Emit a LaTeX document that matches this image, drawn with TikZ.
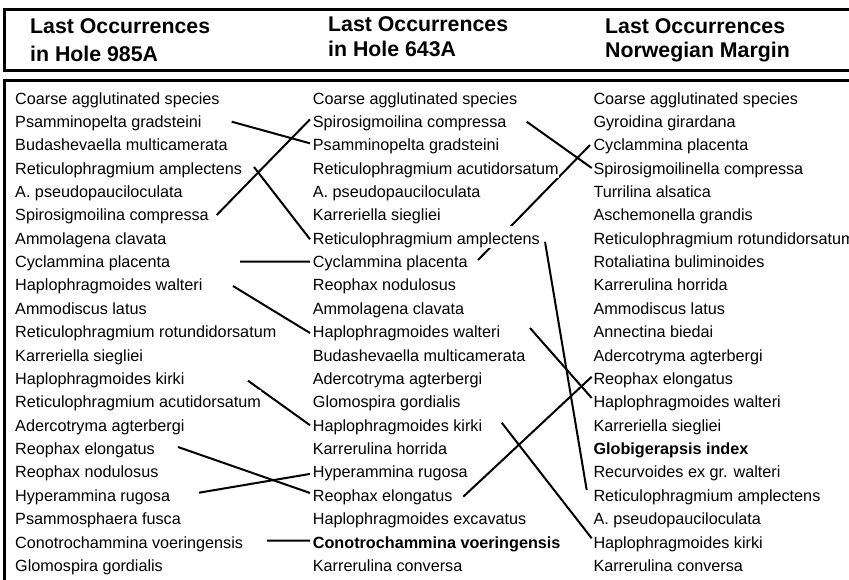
\documentclass[tikz,border=0pt]{standalone}
\usepackage{fontspec}
\setmainfont{Liberation Sans}
\usetikzlibrary{calc}
\pgfdeclarelayer{bg}
\pgfsetlayers{bg,main}
\begin{document}
\begin{tikzpicture}[x=1pt,y=-1pt,
  sp/.style={anchor=base west, inner xsep=0pt, inner ysep=0pt, text height=18pt, text depth=4pt, fill=white, font=\fontsize{16.2}{19}\selectfont},
  hd/.style={anchor=base west, inner sep=0pt, font=\fontsize{21.3}{25}\selectfont\bfseries},
  link/.style={line width=2pt},
  frame/.style={line width=3pt}]
\useasboundingbox (0,0) rectangle (849,579);
\clip (0,0) rectangle (849,579);
\draw[frame] (4.5,9) rectangle (870,70);
\draw[frame] (4.5,80.3) rectangle (870,620);
% headers
\node[hd] (h1a) at (30,33) {Last Occurrences};
\node[hd] (h1b) at (30,61) {in Hole 985A};
\node[hd] (h2a) at (328,31.5) {Last Occurrences};
\node[hd] (h2b) at (328,56) {in Hole 643A};
\node[hd] (h3a) at (605,33) {Last Occurrences};
\node[hd] (h3b) at (605,57) {Norwegian Margin};
% columns
\foreach \t [count=\i from 0] in {Coarse agglutinated species, Psamminopelta gradsteini, Budashevaella multicamerata, Reticulophragmium amplectens, A. pseudopauciloculata, Spirosigmoilina compressa, Ammolagena clavata, Cyclammina placenta, Haplophragmoides walteri, Ammodiscus latus, Reticulophragmium rotundidorsatum, Karreriella siegliei, Haplophragmoides kirki, Reticulophragmium acutidorsatum, Adercotryma agterbergi, Reophax elongatus, Reophax nodulosus, Hyperammina rugosa, Psammosphaera fusca, Conotrochammina voeringensis, Glomospira gordialis}
  \node[sp] (a\i) at (15,{104+23.37*\i}) {\t};
\foreach \t [count=\i from 0] in {Coarse agglutinated species, Spirosigmoilina compressa, Psamminopelta gradsteini, Reticulophragmium acutidorsatum, A. pseudopauciloculata, Karreriella siegliei, Reticulophragmium amplectens, Cyclammina placenta, Reophax nodulosus, Ammolagena clavata, Haplophragmoides walteri, Budashevaella multicamerata, Adercotryma agterbergi, Glomospira gordialis, Haplophragmoides kirki, Karrerulina horrida, Hyperammina rugosa, Reophax elongatus, Haplophragmoides excavatus, {\textbf{Conotrochammina voeringensis}}, Karrerulina conversa}
  \node[sp] (b\i) at (312.7,{104+23.37*\i}) {\t};
\foreach \t [count=\i from 0] in {Coarse agglutinated species, Gyroidina girardana, Cyclammina placenta, Spirosigmoilinella compressa, Turrilina alsatica, Aschemonella grandis, Reticulophragmium rotundidorsatum, Rotaliatina buliminoides, Karrerulina horrida, Ammodiscus latus, Annectina biedai, Adercotryma agterbergi, Reophax elongatus, Haplophragmoides walteri, Karreriella siegliei, {\textbf{Globigerapsis index}}, Recurvoides ex gr. walteri, Reticulophragmium amplectens, A. pseudopauciloculata, Haplophragmoides kirki, Karrerulina conversa}
  \node[sp] (c\i) at (593.3,{104+23.37*\i}) {\t};
% free ends
\coordinate (s1) at (231.7,121.7);
\coordinate (s2) at (216.7,215);
\coordinate (s3) at (254,167);
\coordinate (s4) at (240,261.7);
\coordinate (s5) at (233,286);
\coordinate (s6) at (248,380.7);
\coordinate (s7) at (178,447);
\coordinate (s8) at (199,492.7);
\coordinate (s9) at (267,540.7);
\coordinate (t1) at (526.7,121.7);
\coordinate (t2) at (478,260);
\coordinate (t3) at (545,241.7);
\coordinate (t4) at (530,328);
\coordinate (t5) at (501.7,422.7);
\coordinate (t6) at (463.3,496.7);
\coordinate (u3) at ($(c17.base west)+(-6.6,-11.3)$);
\begin{pgfonlayer}{bg}
\draw[link] (s1) -- ($(b2.base west)+(-2.7,-7.4)$);
\draw[link] (s2) -- ($(b1.base west)+(-2.7,-8)$);
\draw[link] (s3) -- ($(b6.base west)+(-2.7,-5)$);
\draw[link] (s4) -- ($(b7.base west)+(-2.7,-6)$);
\draw[link] (s5) -- ($(b10.base west)+(-2.7,-4.7)$);
\draw[link] (s6) -- ($(b14.base west)+(-2.7,-6)$);
\draw[link] (s7) -- ($(b17.base west)+(-2.7,-8.3)$);
\draw[link] (s8) -- ($(b16.base west)+(-2.7,-4)$);
\draw[link] (s9) -- ($(b19.base west)+(-2.7,-7.3)$);
\draw[link] (t1) -- ($(c3.base west)+(-1.6,-6.1)$);
\draw[link] (t2) -- ($(c2.base west)+(-3.3,-5.7)$);
\draw[link] (t3) -- (u3);
\draw[link] (t4) -- ($(c13.base west)+(-1.6,-9.8)$);
\draw[link] (t5) -- ($(c19.base west)+(-1.6,-9.7)$);
\draw[link] (t6) -- ($(c12.base west)+(-1.6,-7.7)$);
\end{pgfonlayer}
\end{tikzpicture}
\end{document}
